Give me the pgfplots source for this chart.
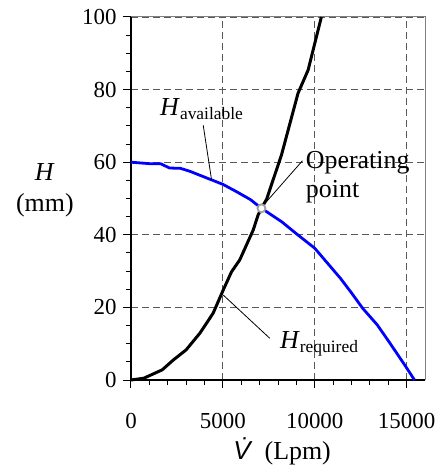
\documentclass[border=0pt]{standalone}
\usepackage{fontspec}
\setmainfont{Liberation Serif}
\setsansfont{Liberation Sans}
\usepackage{pgfplots}
\pgfplotsset{compat=1.18}

\begin{document}
\begin{tikzpicture}
\useasboundingbox (-131bp,-91bp) rectangle (317bp,380bp);
\begin{axis}[
    scale only axis,
    width=294bp,
    height=363bp,
    xmin=0, xmax=16000,
    ymin=0, ymax=100,
    xtick={0,5000,10000,15000},
    ytick={0,20,40,60,80,100},
    minor x tick num=4,
    minor y tick num=3,
    axis x line*=bottom,
    axis y line*=left,
    axis line style={line width=1.2pt, black},
    tick align=outside,
    major tick length=8bp,
    minor tick length=5bp,
    tick style={black, line width=1pt},
    grid=major,
    major grid style={gray!70!black, line width=0.8pt, dash pattern=on 7bp off 4bp},
    /pgf/number format/assume math mode=true,
    scaled x ticks=false,
    xticklabel style={font=\fontsize{23}{27}\selectfont, yshift=-22bp,
      /pgf/number format/.cd, 1000 sep={}},
    yticklabel style={font=\fontsize{23}{27}\selectfont, xshift=-3bp},
    xlabel={{\sffamily\itshape \.{V}}\hspace{14bp}(Lpm)},
    every axis x label/.style={at={(axis description cs:0.514,-0.22)}, anchor=base,
      font=\fontsize{26}{30}\selectfont},
    ylabel={\textit{H}\\(mm)},
    every axis y label/.style={at={(axis description cs:-0.293,0.523)}, anchor=center,
      align=center, font=\fontsize{26}{31}\selectfont},
    clip=false,
  ]
  % frame on top and right
  \draw[gray, line width=1pt] (rel axis cs:0,1) -- (rel axis cs:1,1) -- (rel axis cs:1,0);

  % H available
  \addplot[blue, line width=2.8pt, line join=round] coordinates {
    (0,60) (1000,59.6) (1600,59.6) (2100,58.4) (2700,58.3) (3200,57.5)
    (3800,56.3) (4400,55.1) (5000,53.9) (5700,52.0) (6500,49.7) (7100,47.3)
    (8200,43.6) (9000,40.3) (10000,36.3) (11400,28.0) (12000,24.0)
    (12600,19.8) (13400,15.2) (14100,10.1) (14900,4.1) (15430,0)
  };
  % H required
  \addplot[black, line width=3pt, line join=round] coordinates {
    (0,0) (700,0.5) (1700,2.8) (2300,5.5) (3000,8.3) (3750,12.9) (4470,18.4)
    (5020,24.8) (5470,29.8) (5920,33.1) (6650,41.3) (6920,45.5) (7100,47.3)
    (7380,49.8) (8190,62) (9090,79) (9640,85.4) (10360,100)
  };
  % operating point
  \addplot[only marks, mark=*, mark size=4bp,
    mark options={draw=gray!75, fill=white, line width=1.8pt}] coordinates {(7100,47.3)};

  % leaders
  \draw[line width=0.8pt] (axis cs:3930,70.2) -- (axis cs:4385,55.1);
  \draw[line width=0.8pt] (axis cs:9330,60.4) -- (axis cs:7350,49.0);
  \draw[line width=0.8pt] (axis cs:7550,11.5) -- (axis cs:5020,23.4);

  % labels
  \node[anchor=base west, inner sep=0pt, font=\fontsize{26}{30}\selectfont]
    at (axis cs:1576,73.0)
    {\textit{H}\raisebox{-4bp}{\fontsize{17.5}{20}\selectfont available}};
  \node[anchor=base west, inner sep=0pt, font=\fontsize{26}{30}\selectfont]
    at (axis cs:8100,8.8)
    {\textit{H}\raisebox{-4bp}{\fontsize{17.5}{20}\selectfont required}};
  \node[anchor=base west, inner sep=0pt, font=\fontsize{26}{30}\selectfont]
    at (axis cs:9511,58.4) {Operating};
  \node[anchor=base west, inner sep=0pt, font=\fontsize{26}{30}\selectfont]
    at (axis cs:9511,50.4) {point};
\end{axis}
\end{tikzpicture}
\end{document}
